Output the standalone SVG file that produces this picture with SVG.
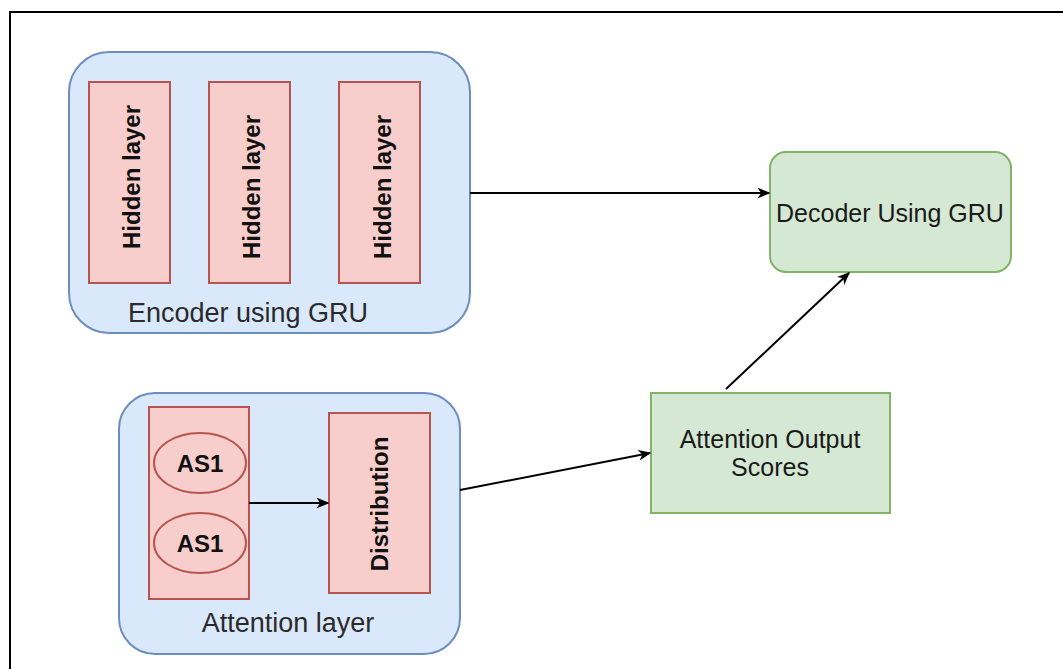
<svg xmlns="http://www.w3.org/2000/svg" width="1063" height="669" viewBox="0 0 1063 669">
  <style>
    .group { fill: #dae8fc; stroke: #6c8ebf; stroke-width: 2; }
    .red { fill: #f8cecc; stroke: #b85450; stroke-width: 2; }
    .green { fill: #d5e8d4; stroke: #82b366; stroke-width: 2; }
    .lbl { font-family: "Liberation Sans", Arial, sans-serif; fill: #1a1a1a; }
    .big { font-size: 27px; fill: #2a2a2a; }
    .mid { font-size: 25px; }
    .bold { font-size: 24px; font-weight: bold; fill: #111; }
    .edge { fill: none; stroke: #000; stroke-width: 2; }
  </style>
  <defs>
    <marker id="arrow" viewBox="0 0 10 10" refX="9" refY="5" markerWidth="13" markerHeight="11" markerUnits="userSpaceOnUse" orient="auto" preserveAspectRatio="none">
      <path d="M0,0 L10,5 L0,10 L3,5 z" fill="#000"/>
    </marker>
  </defs>
  <rect x="0" y="0" width="1063" height="669" fill="#fff"/>

  <!-- outer frame -->
  <path d="M10,669 V12 H1063" fill="none" stroke="#000" stroke-width="2"/>

  <!-- encoder group -->
  <g id="encoder">
    <rect class="group" x="69" y="52" width="401" height="281" rx="40" ry="40"/>
    <text class="lbl big" x="248" y="322" text-anchor="middle">Encoder using GRU</text>
  </g>
  <g id="hidden1">
    <rect class="red" x="89" y="82" width="81" height="201"/>
    <text class="lbl bold" transform="translate(140,177) rotate(-90)" text-anchor="middle">Hidden layer</text>
  </g>
  <g id="hidden2">
    <rect class="red" x="209" y="82" width="81" height="201"/>
    <text class="lbl bold" transform="translate(260,187) rotate(-90)" text-anchor="middle">Hidden layer</text>
  </g>
  <g id="hidden3">
    <rect class="red" x="339" y="82" width="81" height="201"/>
    <text class="lbl bold" transform="translate(390.5,187) rotate(-90)" text-anchor="middle">Hidden layer</text>
  </g>

  <!-- decoder -->
  <g id="decoder">
    <rect class="green" x="770" y="152" width="241" height="120" rx="16" ry="16"/>
    <text class="lbl mid" x="890" y="222" text-anchor="middle">Decoder Using GRU</text>
  </g>

  <!-- attention group -->
  <g id="attention">
    <rect class="group" x="119" y="393" width="341" height="261" rx="36" ry="36"/>
    <text class="lbl big" x="288" y="632" text-anchor="middle">Attention layer</text>
  </g>
  <g id="scores">
    <rect class="red" x="149" y="407" width="100" height="192"/>
  </g>
  <g id="as1a">
    <ellipse class="red" cx="200" cy="463" rx="46" ry="30"/>
    <text class="lbl bold" x="200" y="472" text-anchor="middle">AS1</text>
  </g>
  <g id="as1b">
    <ellipse class="red" cx="200" cy="543" rx="46" ry="30"/>
    <text class="lbl bold" x="200" y="552" text-anchor="middle">AS1</text>
  </g>
  <g id="distribution">
    <rect class="red" x="329" y="413" width="101" height="180"/>
    <text class="lbl bold" transform="translate(388,504) rotate(-90)" text-anchor="middle">Distribution</text>
  </g>

  <!-- attention output -->
  <g id="attention-output">
    <rect class="green" x="651" y="393" width="239" height="120"/>
    <text class="lbl mid" x="770" y="448" text-anchor="middle" font-size="26">Attention Output</text>
    <text class="lbl mid" x="770" y="476" text-anchor="middle" font-size="26">Scores</text>
  </g>

  <!-- connectors -->
  <g id="connectors">
    <line class="edge" x1="470" y1="193" x2="769" y2="193" marker-end="url(#arrow)"/>
    <line class="edge" x1="249" y1="503" x2="328" y2="503" marker-end="url(#arrow)"/>
    <line class="edge" x1="460" y1="490" x2="650" y2="453" marker-end="url(#arrow)"/>
    <line class="edge" x1="726" y1="389" x2="849" y2="273" marker-end="url(#arrow)"/>
  </g>
</svg>
